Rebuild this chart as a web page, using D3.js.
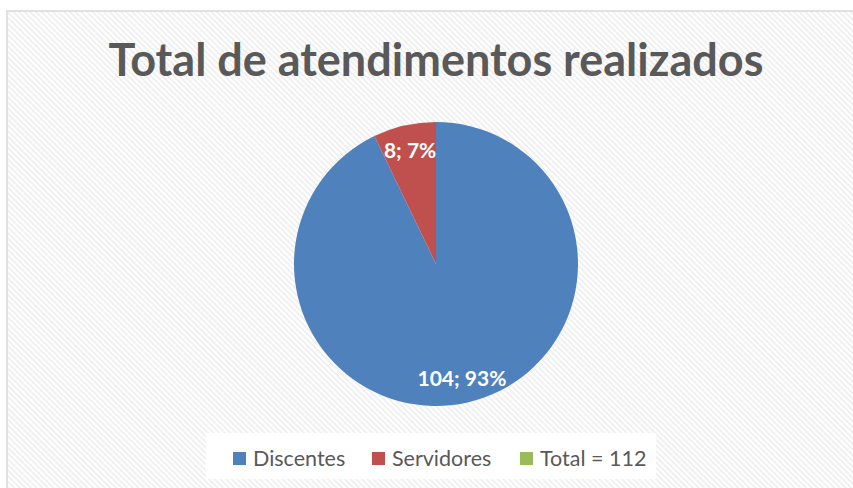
<!DOCTYPE html>
<html>
<head>
<meta charset="utf-8">
<script src="https://cdn.jsdelivr.net/npm/d3@7"></script>
<style>
  body { margin: 0; background: #fff; }
  svg { display: block; font-family: Lato, "Open Sans", sans-serif; }
</style>
</head>
<body>
<svg id="chart" width="853" height="488"></svg>
<script>
var categories = ['Discentes', 'Servidores', 'Total = 112'];
var values = [104, 8, 0];
var percents = ['93%', '7%', ''];
var colors = ['#4f81bd', '#c0504d', '#9bbb59'];
var title = 'Total de atendimentos realizados';

var svg = d3.select('#chart');
var cx = 436, cy = 264, radius = 142;

// hatched chart area background (stripes running top-left to bottom-right)
var defs = svg.append('defs');
var pat = defs.append('pattern')
  .attr('id', 'hatch')
  .attr('patternUnits', 'userSpaceOnUse')
  .attr('width', 4).attr('height', 4)
  .attr('patternTransform', 'rotate(-45)');
pat.append('rect').attr('width', 4).attr('height', 4).attr('fill', '#ffffff');
pat.append('rect').attr('width', 2).attr('height', 4).attr('fill', '#f0f0f0');

svg.append('rect')
  .attr('x', 7).attr('y', 11)
  .attr('width', 860).attr('height', 490)
  .attr('fill', 'url(#hatch)')
  .attr('stroke', '#d9d9d9')
  .attr('stroke-width', 1.5);

svg.append('text')
  .attr('x', cx).attr('y', 76)
  .attr('text-anchor', 'middle')
  .attr('font-size', 45)
  .attr('font-weight', 'bold')
  .attr('fill', '#595959')
  .text(title);

var pie = d3.pie().sort(null).value(function (d) { return d; });
var arcs = pie(values);
var arc = d3.arc().innerRadius(0).outerRadius(radius);

var g = svg.append('g').attr('transform', 'translate(' + cx + ',' + cy + ')');
g.selectAll('path')
  .data(arcs.filter(function (d) { return d.value > 0; }))
  .enter().append('path')
  .attr('d', arc)
  .attr('fill', function (d) { return colors[d.index]; });

// data labels, inside near the rim like Excel's "best fit"
var labelArc = d3.arc().innerRadius(radius * 0.82).outerRadius(radius * 0.82);
g.selectAll('text.lbl')
  .data(arcs.filter(function (d) { return d.value > 0; }))
  .enter().append('text')
  .attr('class', 'lbl')
  .attr('transform', function (d) {
    var p = labelArc.centroid(d);
    return 'translate(' + p[0] + ',' + (p[1] + 8) + ')';
  })
  .attr('text-anchor', 'middle')
  .attr('font-size', 21)
  .attr('font-weight', 'bold')
  .attr('fill', '#ffffff')
  .text(function (d) { return d.value + '; ' + percents[d.index]; });

// legend
var legend = svg.append('g');
legend.append('rect')
  .attr('x', 206).attr('y', 433)
  .attr('width', 450).attr('height', 46)
  .attr('fill', '#ffffff');
var legendX = [233, 372, 520];
var items = legend.selectAll('g.item')
  .data(categories)
  .enter().append('g')
  .attr('transform', function (d, i) { return 'translate(' + legendX[i] + ',452)'; });
items.append('rect')
  .attr('width', 13).attr('height', 13)
  .attr('fill', function (d, i) { return colors[i]; });
items.append('text')
  .attr('x', 20).attr('y', 13.5)
  .attr('font-size', 21.5)
  .attr('fill', '#595959')
  .text(function (d) { return d; });
</script>
</body>
</html>
